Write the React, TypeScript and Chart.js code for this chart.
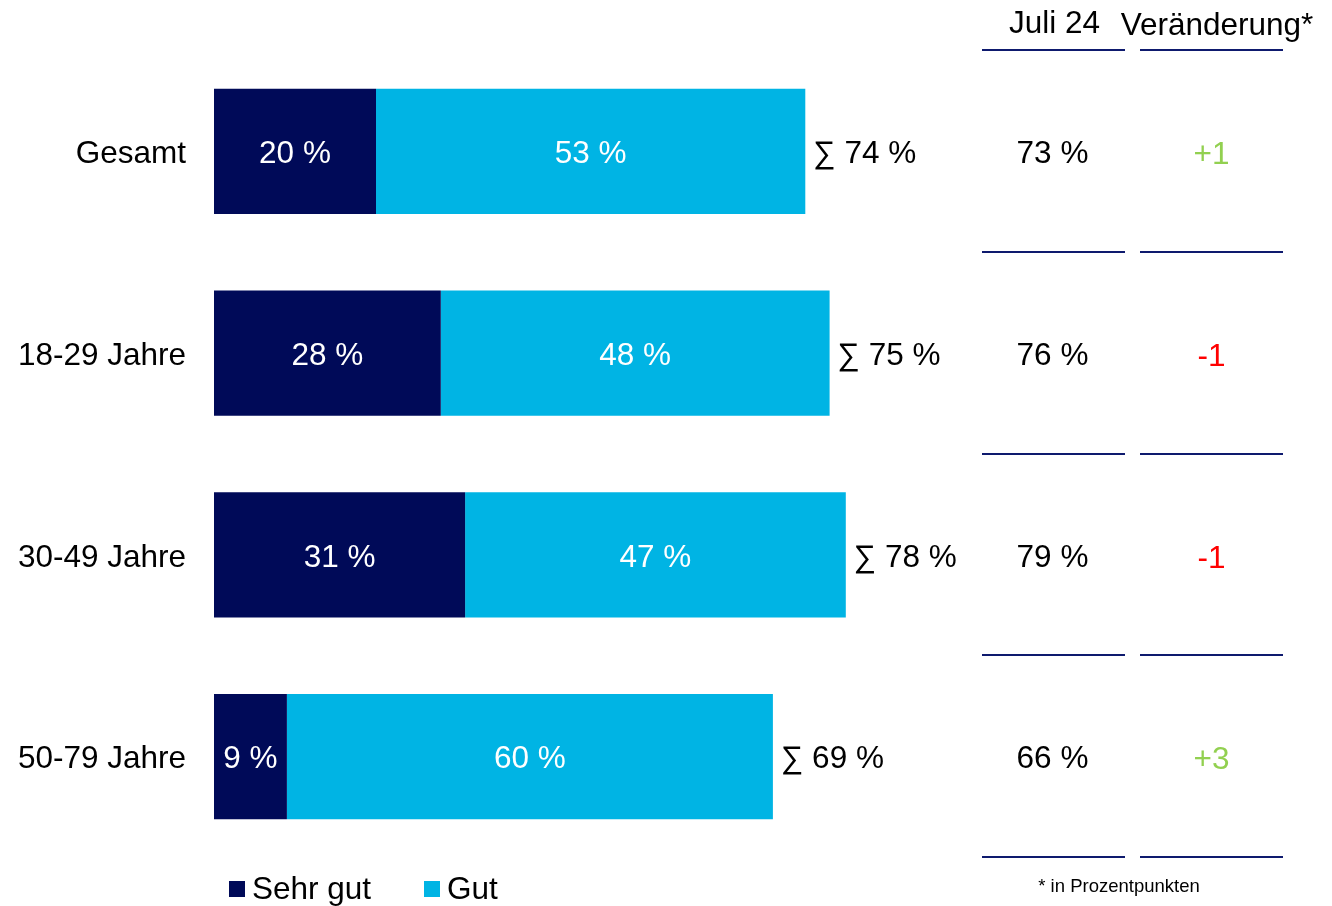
import React, { useEffect, useRef } from "react";
import { Chart, registerables } from "chart.js";

Chart.register(...registerables);

const categories = ["Gesamt", "18-29 Jahre", "30-49 Jahre", "50-79 Jahre"];
const sehrGut = [20, 28, 31, 9];
const gut = [53, 48, 47, 60];
const sums = ["∑ 74 %", "∑ 75 %", "∑ 78 %", "∑ 69 %"];
const juli24 = ["73 %", "76 %", "79 %", "66 %"];
const changes = ["+1", "-1", "-1", "+3"];
const seriesNames = ["Sehr gut", "Gut"];
const headers = ["Juli 24", "Veränderung*"];
const footnote = "* in Prozentpunkten";

const DARK = "#000A58";
const LIGHT = "#00B4E4";
const LINE = "#0E1A6E";
const GREEN = "#92D050";
const RED = "#FF0000";
const FONT = "31.5px 'Liberation Sans', Arial, sans-serif";

const overlayPlugin = {
  id: "overlay",
  afterDatasetsDraw(chart: any) {
    const ctx = chart.ctx;
    const yScale = chart.scales.y;
    const area = chart.chartArea;
    ctx.save();
    ctx.font = FONT;
    ctx.textBaseline = "middle";
    // in-bar labels
    chart.data.datasets.forEach((ds: any, di: number) => {
      const meta = chart.getDatasetMeta(di);
      meta.data.forEach((bar: any, i: number) => {
        const cx = (bar.x + bar.base) / 2;
        ctx.fillStyle = "#ffffff";
        ctx.textAlign = "center";
        ctx.fillText(`${ds.data[i]} %`, cx, bar.y + 3);
      });
    });
    // sums
    const lastMeta = chart.getDatasetMeta(chart.data.datasets.length - 1);
    lastMeta.data.forEach((bar: any, i: number) => {
      ctx.fillStyle = "#000000";
      ctx.textAlign = "left";
      ctx.fillText(sums[i], bar.x + 8, bar.y + 3);
    });
    // table
    const col1 = [982, 1125];
    const col2 = [1140, 1283];
    const c1 = (col1[0] + col1[1]) / 2;
    const c2 = (col2[0] + col2[1]) / 2;
    const band = (area.bottom - area.top) / categories.length;
    ctx.strokeStyle = LINE;
    ctx.lineWidth = 2;
    const drawLines = (y: number) => {
      ctx.beginPath();
      ctx.moveTo(col1[0], y);
      ctx.lineTo(col1[1], y);
      ctx.moveTo(col2[0], y);
      ctx.lineTo(col2[1], y);
      ctx.stroke();
    };
    drawLines(Math.floor(area.top));
    categories.forEach((_, i) => {
      const cy = yScale.getPixelForValue(i);
      drawLines(Math.floor(cy + band / 2));
      ctx.fillStyle = "#000000";
      ctx.textAlign = "center";
      ctx.fillText(juli24[i], c1 - 1, cy + 3);
      ctx.fillStyle = changes[i].startsWith("+") ? GREEN : RED;
      ctx.fillText(changes[i], c2, cy + 4);
    });
    // headers
    ctx.fillStyle = "#000000";
    ctx.textAlign = "center";
    ctx.fillText(headers[0], c1 + 1, 24);
    ctx.fillText(headers[1], 1217, 26);
    // footnote
    ctx.font = "18.5px 'Liberation Sans', Arial, sans-serif";
    ctx.fillText(footnote, 1119, 887);
    // legend
    ctx.font = FONT;
    ctx.textAlign = "left";
    const legendX = [229, 424];
    const colors = [DARK, LIGHT];
    seriesNames.forEach((name, i) => {
      ctx.fillStyle = colors[i];
      ctx.fillRect(legendX[i], 881, 16, 16);
      ctx.fillStyle = "#000000";
      ctx.fillText(name, legendX[i] + 23, 890);
    });
    ctx.restore();
  },
};

export default function App() {
  const ref = useRef<HTMLCanvasElement>(null);
  useEffect(() => {
    if (!ref.current) return;
    const chart = new Chart(ref.current, {
      type: "bar",
      data: {
        labels: categories,
        datasets: [
          { label: seriesNames[0], data: sehrGut, backgroundColor: DARK, borderWidth: 0 },
          { label: seriesNames[1], data: gut, backgroundColor: LIGHT, borderWidth: 0 },
        ],
      },
      options: {
        indexAxis: "y",
        responsive: false,
        animation: false,
        devicePixelRatio: 1,
        datasets: { bar: { barPercentage: 0.62, categoryPercentage: 1 } },
        layout: { padding: { left: 0, right: 308, top: 50.5, bottom: 48.5 } },
        plugins: { legend: { display: false }, tooltip: { enabled: false } },
        scales: {
          x: { stacked: true, min: 0, max: 100, display: false },
          y: {
            stacked: true,
            grid: { display: false, drawTicks: false },
            border: { display: false },
            ticks: {
              padding: 28,
              labelOffset: 3,
              color: "#000000",
              font: { family: "'Liberation Sans', Arial, sans-serif", size: 31.5 },
            },
            afterFit: (scale: any) => {
              scale.width = 214;
            },
          },
        },
      },
      plugins: [overlayPlugin],
    } as any);
    return () => chart.destroy();
  }, []);
  return (
    <div style={{ position: "fixed", left: 0, top: 0, width: 1332, height: 906, background: "#fff" }}>
      <canvas ref={ref} width={1332} height={906} style={{ width: 1332, height: 906 }} />
    </div>
  );
}
